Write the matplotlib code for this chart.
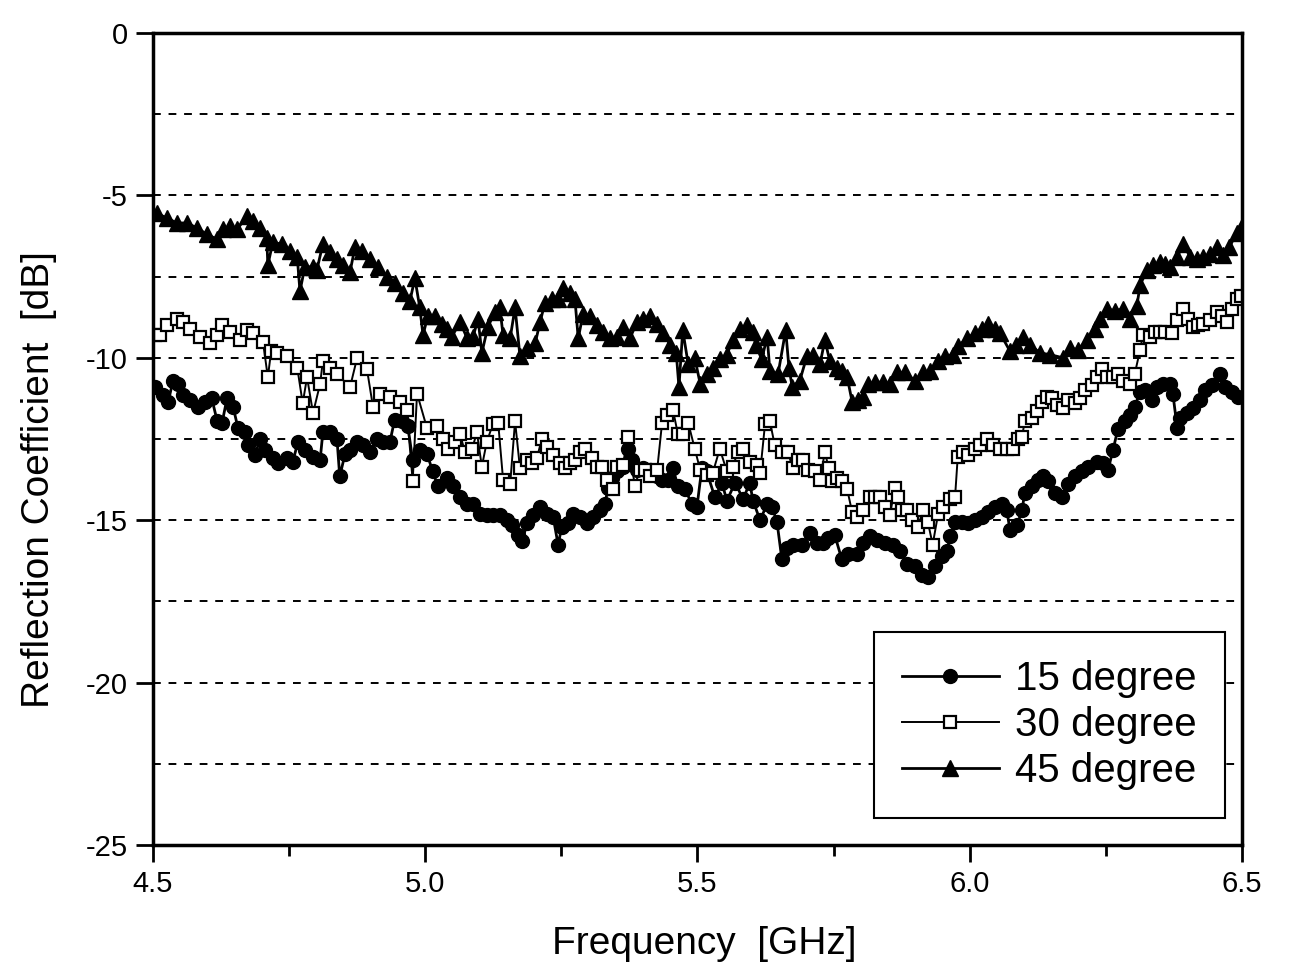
import matplotlib
matplotlib.use("Agg")
import matplotlib.pyplot as plt
from matplotlib.ticker import MultipleLocator, FormatStrFormatter

plt.rcParams['font.family'] = ['Liberation Sans', 'DejaVu Sans']
plt.rcParams['axes.unicode_minus'] = False

''' measured return loss, three tilt angles '''
freq_15 = [4.504, 4.518, 4.528, 4.537, 4.546, 4.555, 4.568, 4.583, 4.595, 4.608,
           4.618, 4.627, 4.636, 4.647, 4.656, 4.669, 4.675, 4.687, 4.697, 4.706,
           4.720, 4.730, 4.746, 4.757, 4.766, 4.779, 4.794, 4.807, 4.812, 4.825,
           4.838, 4.843, 4.853, 4.862, 4.875, 4.886, 4.899, 4.911, 4.922, 4.935,
           4.944, 4.957, 4.968, 4.977, 4.990, 5.003, 5.014, 5.023, 5.040, 5.051,
           5.064, 5.077, 5.088, 5.101, 5.113, 5.124, 5.137, 5.150, 5.159, 5.170,
           5.178, 5.187, 5.198, 5.211, 5.224, 5.235, 5.244, 5.251, 5.262, 5.271,
           5.284, 5.297, 5.308, 5.321, 5.330, 5.336, 5.343, 5.352, 5.363, 5.372,
           5.380, 5.389, 5.400, 5.413, 5.426, 5.435, 5.446, 5.455, 5.464, 5.477,
           5.490, 5.499, 5.508, 5.517, 5.532, 5.545, 5.554, 5.569, 5.584, 5.596,
           5.602, 5.615, 5.628, 5.637, 5.646, 5.655, 5.664, 5.675, 5.692, 5.707,
           5.719, 5.730, 5.740, 5.752, 5.765, 5.776, 5.793, 5.804, 5.817, 5.830,
           5.844, 5.859, 5.872, 5.885, 5.899, 5.912, 5.923, 5.936, 5.949, 5.958,
           5.964, 5.973, 5.986, 5.997, 6.010, 6.022, 6.033, 6.046, 6.059, 6.068,
           6.074, 6.087, 6.096, 6.101, 6.114, 6.125, 6.134, 6.144, 6.156, 6.169,
           6.180, 6.193, 6.206, 6.217, 6.234, 6.245, 6.254, 6.263, 6.272, 6.285,
           6.294, 6.303, 6.313, 6.322, 6.335, 6.344, 6.355, 6.368, 6.373, 6.381,
           6.386, 6.399, 6.410, 6.423, 6.432, 6.445, 6.460, 6.469, 6.482, 6.493]
s11_15 = [-10.9, -11.15, -11.35, -10.7, -10.8, -11.15, -11.3, -11.5, -11.35, -11.25,
          -11.95, -12.0, -11.25, -11.5, -12.15, -12.3, -12.7, -13.0, -12.5, -12.85,
          -13.1, -13.25, -13.1, -13.2, -12.6, -12.85, -13.05, -13.15, -12.3, -12.3,
          -12.5, -13.65, -12.95, -12.85, -12.6, -12.7, -12.9, -12.5, -12.6, -12.6,
          -11.9, -11.95, -12.1, -13.15, -12.85, -12.95, -13.5, -13.95, -13.7, -13.95,
          -14.3, -14.5, -14.5, -14.8, -14.85, -14.85, -14.85, -15.0, -15.15, -15.45,
          -15.65, -15.1, -14.85, -14.6, -14.8, -14.9, -15.75, -15.2, -15.1, -14.8,
          -14.9, -15.1, -14.9, -14.7, -14.5, -14.0, -13.7, -13.5, -13.35, -12.8,
          -13.15, -13.45, -13.4, -13.45, -13.65, -13.75, -13.75, -13.4, -13.95, -14.05,
          -14.5, -14.6, -13.4, -13.5, -14.3, -13.85, -14.4, -13.85, -14.35, -13.85,
          -14.4, -15.0, -14.5, -14.6, -15.05, -16.2, -15.85, -15.75, -15.75, -15.4,
          -15.7, -15.7, -15.55, -15.45, -16.2, -16.05, -16.05, -15.7, -15.5, -15.6,
          -15.7, -15.75, -15.95, -16.35, -16.4, -16.7, -16.75, -16.4, -16.1, -15.95,
          -15.5, -15.05, -15.05, -15.1, -15.0, -14.9, -14.75, -14.6, -14.5, -14.7,
          -15.3, -15.15, -14.7, -14.15, -13.95, -13.75, -13.65, -13.8, -14.15, -14.3,
          -13.9, -13.65, -13.5, -13.35, -13.2, -13.25, -13.45, -12.85, -12.2, -11.95,
          -11.75, -11.5, -11.05, -11.0, -11.3, -10.9, -10.8, -10.8, -11.1, -12.15,
          -11.85, -11.7, -11.55, -11.3, -11.0, -10.85, -10.5, -10.9, -11.05, -11.2]

freq_30 = [4.504, 4.513, 4.526, 4.544, 4.555, 4.568, 4.586, 4.605, 4.618, 4.627,
           4.641, 4.660, 4.673, 4.684, 4.702, 4.711, 4.717, 4.728, 4.746, 4.765,
           4.775, 4.783, 4.794, 4.807, 4.812, 4.825, 4.838, 4.862, 4.875, 4.893,
           4.904, 4.917, 4.935, 4.954, 4.966, 4.977, 4.985, 5.003, 5.022, 5.033,
           5.042, 5.055, 5.064, 5.073, 5.086, 5.095, 5.104, 5.113, 5.124, 5.134,
           5.143, 5.156, 5.165, 5.174, 5.187, 5.196, 5.205, 5.214, 5.224, 5.235,
           5.247, 5.257, 5.266, 5.275, 5.284, 5.293, 5.306, 5.315, 5.325, 5.334,
           5.345, 5.352, 5.363, 5.372, 5.385, 5.394, 5.404, 5.413, 5.426, 5.435,
           5.444, 5.455, 5.464, 5.473, 5.483, 5.495, 5.505, 5.517, 5.528, 5.541,
           5.554, 5.565, 5.574, 5.584, 5.596, 5.609, 5.615, 5.624, 5.633, 5.642,
           5.655, 5.666, 5.675, 5.685, 5.694, 5.703, 5.716, 5.725, 5.734, 5.741,
           5.747, 5.756, 5.765, 5.775, 5.784, 5.793, 5.804, 5.817, 5.826, 5.835,
           5.844, 5.853, 5.863, 5.868, 5.875, 5.885, 5.894, 5.905, 5.914, 5.923,
           5.932, 5.942, 5.951, 5.964, 5.973, 5.978, 5.988, 5.997, 6.010, 6.019,
           6.032, 6.043, 6.056, 6.068, 6.079, 6.089, 6.096, 6.101, 6.114, 6.123,
           6.133, 6.142, 6.151, 6.160, 6.171, 6.180, 6.193, 6.202, 6.212, 6.224,
           6.234, 6.243, 6.252, 6.263, 6.272, 6.281, 6.294, 6.303, 6.313, 6.318,
           6.331, 6.340, 6.349, 6.359, 6.371, 6.381, 6.392, 6.401, 6.410, 6.419,
           6.429, 6.441, 6.455, 6.463, 6.472, 6.482, 6.491, 6.498]
s11_30 = [-9.3, -9.3, -9.0, -8.8, -8.9, -9.1, -9.35, -9.55, -9.3, -9.0,
          -9.2, -9.45, -9.15, -9.25, -9.5, -10.6, -9.8, -9.85, -9.95, -10.3,
          -11.4, -10.6, -11.7, -10.8, -10.1, -10.3, -10.5, -10.9, -10.0, -10.35,
          -11.5, -11.1, -11.2, -11.35, -11.6, -13.8, -11.1, -12.15, -12.1, -12.5,
          -12.8, -12.6, -12.35, -12.9, -12.8, -12.3, -13.35, -12.6, -12.05, -12.0,
          -13.75, -13.9, -11.95, -13.4, -13.15, -13.25, -13.1, -12.5, -12.75, -13.0,
          -13.25, -13.4, -13.25, -13.15, -12.9, -12.8, -13.1, -13.35, -13.35, -13.75,
          -14.05, -13.35, -13.3, -12.45, -13.95, -13.45, -13.45, -13.65, -13.45, -12.0,
          -11.75, -11.6, -12.35, -12.35, -12.0, -12.8, -13.45, -13.6, -13.55, -12.8,
          -13.5, -13.35, -12.9, -12.8, -13.2, -13.3, -13.55, -12.05, -11.95, -12.7,
          -12.9, -12.9, -13.4, -13.15, -13.15, -13.45, -13.5, -13.75, -12.9, -13.4,
          -13.8, -13.7, -13.8, -14.05, -14.75, -14.9, -14.7, -14.3, -14.3, -14.3,
          -14.6, -14.85, -14.0, -14.3, -14.7, -14.7, -15.0, -15.2, -14.7, -15.05,
          -15.75, -14.8, -14.6, -14.35, -14.3, -13.05, -12.9, -13.0, -12.8, -12.7,
          -12.5, -12.7, -12.8, -12.8, -12.8, -12.5, -12.45, -11.95, -11.85, -11.65,
          -11.35, -11.2, -11.25, -11.45, -11.55, -11.3, -11.4, -11.25, -11.0, -10.85,
          -10.6, -10.35, -10.6, -10.6, -10.5, -10.7, -10.8, -10.5, -9.75, -9.3,
          -9.35, -9.2, -9.2, -9.2, -9.25, -8.85, -8.5, -8.8, -9.05, -9.0,
          -8.95, -8.85, -8.6, -8.7, -8.9, -8.5, -8.2, -8.1]

freq_45 = [4.507, 4.526, 4.544, 4.562, 4.581, 4.599, 4.618, 4.629, 4.641, 4.654,
           4.673, 4.684, 4.696, 4.709, 4.711, 4.720, 4.737, 4.752, 4.765, 4.770,
           4.779, 4.794, 4.801, 4.812, 4.825, 4.838, 4.849, 4.862, 4.871, 4.884,
           4.898, 4.913, 4.930, 4.944, 4.959, 4.972, 4.981, 4.990, 4.996, 5.005,
           5.018, 5.031, 5.040, 5.049, 5.064, 5.077, 5.088, 5.097, 5.104, 5.115,
           5.128, 5.137, 5.143, 5.156, 5.165, 5.174, 5.187, 5.202, 5.211, 5.220,
           5.233, 5.244, 5.253, 5.266, 5.275, 5.281, 5.290, 5.303, 5.315, 5.326,
           5.339, 5.352, 5.363, 5.376, 5.389, 5.400, 5.413, 5.426, 5.437, 5.450,
           5.461, 5.466, 5.473, 5.483, 5.495, 5.505, 5.517, 5.528, 5.541, 5.554,
           5.565, 5.578, 5.591, 5.602, 5.607, 5.618, 5.628, 5.633, 5.648, 5.662,
           5.668, 5.674, 5.688, 5.701, 5.712, 5.725, 5.734, 5.743, 5.756, 5.765,
           5.775, 5.784, 5.795, 5.804, 5.813, 5.826, 5.841, 5.853, 5.866, 5.881,
           5.899, 5.914, 5.927, 5.942, 5.955, 5.969, 5.978, 5.995, 6.009, 6.022,
           6.034, 6.047, 6.056, 6.074, 6.085, 6.098, 6.111, 6.129, 6.147, 6.171,
           6.184, 6.199, 6.215, 6.230, 6.239, 6.252, 6.266, 6.281, 6.294, 6.307,
           6.313, 6.326, 6.337, 6.350, 6.359, 6.368, 6.381, 6.392, 6.405, 6.418,
           6.429, 6.442, 6.455, 6.466, 6.477, 6.490, 6.498]
s11_45 = [-5.55, -5.7, -5.85, -5.85, -6.0, -6.2, -6.35, -6.05, -5.95, -6.05,
          -5.65, -5.8, -6.0, -6.3, -7.15, -6.45, -6.5, -6.7, -6.9, -7.95,
          -7.2, -7.2, -7.3, -6.5, -6.75, -6.95, -7.15, -7.35, -6.6, -6.7,
          -6.95, -7.2, -7.5, -7.7, -8.0, -8.25, -7.55, -8.45, -9.3, -8.7,
          -8.7, -8.95, -9.1, -9.35, -8.9, -9.4, -9.35, -8.8, -9.85, -9.05,
          -8.6, -8.45, -9.3, -9.4, -8.45, -9.95, -9.7, -9.55, -8.9, -8.3,
          -8.2, -8.2, -7.85, -8.0, -8.2, -9.4, -8.65, -8.7, -9.0, -9.2,
          -9.4, -9.35, -9.05, -9.4, -8.9, -8.8, -8.7, -8.95, -9.25, -9.6,
          -9.85, -10.9, -9.15, -10.2, -10.0, -10.8, -10.5, -10.3, -10.05, -9.9,
          -9.45, -9.1, -9.0, -9.2, -9.6, -10.05, -9.35, -10.4, -10.5, -9.15,
          -10.3, -10.9, -10.7, -9.95, -9.9, -10.2, -9.45, -10.1, -10.3, -10.4,
          -10.6, -11.35, -11.3, -11.2, -10.8, -10.75, -10.75, -10.8, -10.45, -10.45,
          -10.7, -10.45, -10.4, -10.1, -9.95, -9.9, -9.65, -9.4, -9.25, -9.1,
          -8.95, -9.1, -9.25, -9.8, -9.6, -9.35, -9.6, -9.85, -9.9, -10.0,
          -9.7, -9.75, -9.45, -9.1, -8.8, -8.5, -8.55, -8.5, -8.8, -8.4,
          -7.75, -7.3, -7.15, -7.05, -7.1, -7.2, -6.9, -6.5, -6.9, -6.95,
          -6.9, -6.8, -6.6, -6.85, -6.6, -6.15, -6.0]

labels = ["15 degree", "30 degree", "45 degree"]

fig = plt.figure(figsize=(12.94, 9.75), dpi=100)
ax = fig.add_axes([0.1182, 0.1333, 0.8416, 0.8329])

ax.plot(freq_15, s11_15, color='black', lw=2.0, marker='o', ms=10,
        mfc='black', mec='black', label=labels[0])
ax.plot(freq_30, s11_30, color='black', lw=1.4, marker='s', ms=9,
        mfc='white', mec='black', mew=1.6, label=labels[1])
ax.plot(freq_45, s11_45, color='black', lw=2.0, marker='^', ms=12,
        mfc='black', mec='black', label=labels[2])

# dashed reference lines every 2.5 dB
for yv in [-2.5, -5, -7.5, -10, -12.5, -15, -17.5, -20, -22.5]:
    ax.axhline(yv, color='black', lw=1.4, ls=(0, (4, 4)), zorder=0)

ax.set_xlim(4.5, 6.5)
ax.set_ylim(-25, 0)
ax.xaxis.set_major_locator(MultipleLocator(0.5))
ax.xaxis.set_minor_locator(MultipleLocator(0.25))
ax.xaxis.set_major_formatter(FormatStrFormatter('%.1f'))
ax.yaxis.set_major_locator(MultipleLocator(5))
ax.tick_params(axis='both', which='major', direction='out', length=12, width=2,
               labelsize=21, pad=6)
ax.tick_params(axis='x', which='minor', direction='out', length=8, width=2)
for sp in ax.spines.values():
    sp.set_linewidth(2.5)

ax.set_xlabel("Frequency  [GHz]", fontsize=28)
ax.set_ylabel("Reflection Coefficient  [dB]", fontsize=28)
ax.xaxis.set_label_coords(0.506, -0.1)
ax.yaxis.set_label_coords(-0.088, 0.45)

leg = ax.legend(loc='lower right', bbox_to_anchor=(0.984, 0.033), fontsize=29,
                frameon=True, fancybox=False, edgecolor='black', framealpha=1,
                handlelength=2.4, handletextpad=0.4, labelspacing=0.2,
                borderpad=0.7, borderaxespad=0)
leg.get_frame().set_linewidth(1.5)

fig.savefig("out.png", dpi=100)
